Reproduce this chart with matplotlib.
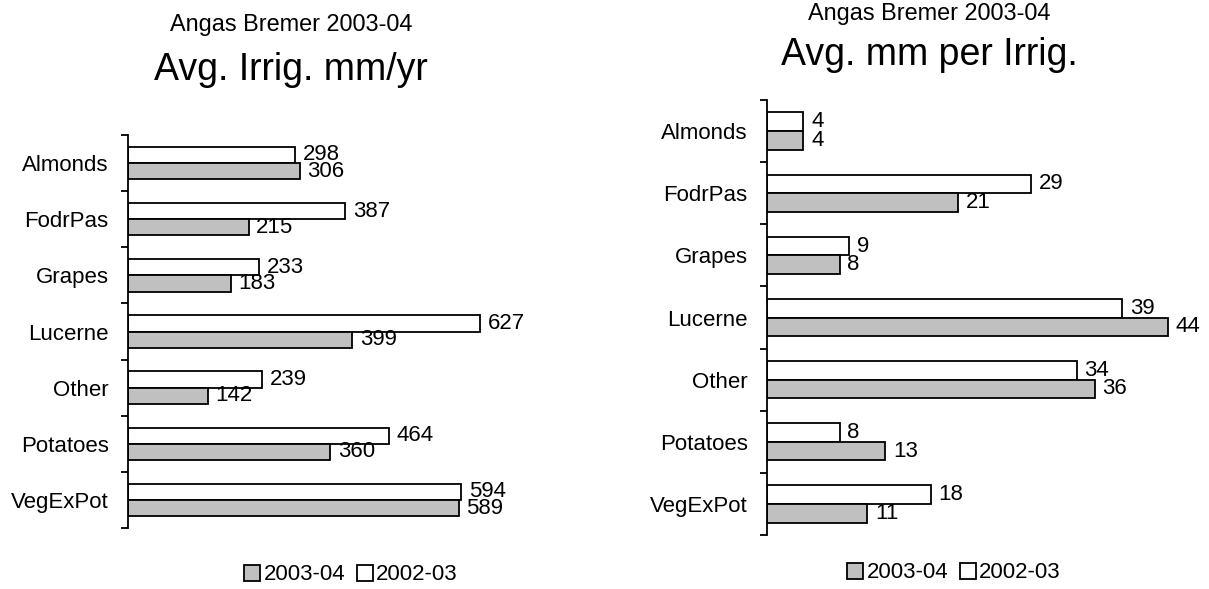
import matplotlib.pyplot as plt
from matplotlib.patches import Rectangle

plt.rcParams.update({'font.family': ['Liberation Sans', 'DejaVu Sans'], 'font.size': 16})

cats = ['Almonds', 'FodrPas', 'Grapes', 'Lucerne', 'Other', 'Potatoes', 'VegExPot']
irr_0304 = [306, 215, 183, 399, 142, 360, 589]
irr_0203 = [298, 387, 233, 627, 239, 464, 594]
mm_0304 = [4, 21, 8, 44, 36, 13, 11]
mm_0203 = [4, 29, 9, 39, 34, 8, 18]

GREY = '#C0C0C0'
W, H = 1209, 589
fig = plt.figure(figsize=(W / 100, H / 100), dpi=100)


def panel(rect, new, old, xmax, bh, sub, title, sub_y, title_y, cx, leg_x, leg_y):
    ax = fig.add_axes([rect[0] / W, 1 - rect[3] / H, rect[1] / W, (rect[3] - rect[2]) / H])
    n = len(cats)
    ys = list(range(n))
    ax.barh([y - bh / 2 for y in ys], old, height=bh, color='white', edgecolor='black', lw=1.3)
    ax.barh([y + bh / 2 for y in ys], new, height=bh, color=GREY, edgecolor='black', lw=1.3)
    for y, v in zip(ys, old):
        ax.annotate(f'{v}', (v, y - bh / 2), xytext=(5.5, 0), textcoords='offset points',
                    va='center', ha='left', fontsize=16)
    for y, v in zip(ys, new):
        ax.annotate(f'{v}', (v, y + bh / 2), xytext=(5.5, 0), textcoords='offset points',
                    va='center', ha='left', fontsize=16)
    ax.set_ylim(n - 0.5, -0.5)
    ax.set_xlim(0, xmax)
    ax.set_yticks(ys)
    ax.set_yticklabels(cats, fontsize=16)
    ax.tick_params(axis='y', which='major', length=0, pad=14)
    ax.set_yticks([y - 0.5 for y in range(n + 1)], minor=True)
    ax.tick_params(axis='y', which='minor', length=5, width=1.3, direction='out')
    ax.set_xticks([])
    for s in ('top', 'right', 'bottom'):
        ax.spines[s].set_visible(False)
    ax.spines['left'].set_linewidth(1.3)
    fig.text(cx / W, 1 - sub_y / H, sub, ha='center', va='baseline', fontsize=16.9)
    fig.text(cx / W, 1 - title_y / H, title, ha='center', va='baseline', fontsize=27)
    handles = [Rectangle((0, 0), 1, 1, fc=GREY, ec='black', lw=1.3),
               Rectangle((0, 0), 1, 1, fc='white', ec='black', lw=1.3)]
    fig.legend(handles, ['2003-04', '2002-03'], loc='center', ncol=2,
               bbox_to_anchor=(leg_x / W, 1 - leg_y / H), frameon=False, fontsize=16,
               handlelength=0.72, handleheight=0.72, handletextpad=0.15, columnspacing=0.5)
    return ax


# rect = (left px, width px, top px, bottom px)
panel((128, 393, 135, 528), irr_0304, irr_0203, 700, 0.29,
      'Angas Bremer 2003-04', 'Avg. Irrig. mm/yr', 31, 80, 291, 351, 575)
panel((767, 428, 100, 535), mm_0304, mm_0203, 47, 0.3,
      'Angas Bremer 2003-04', 'Avg. mm per Irrig.', 20, 65, 929, 954, 573)

fig.savefig('out.png', dpi=100)
